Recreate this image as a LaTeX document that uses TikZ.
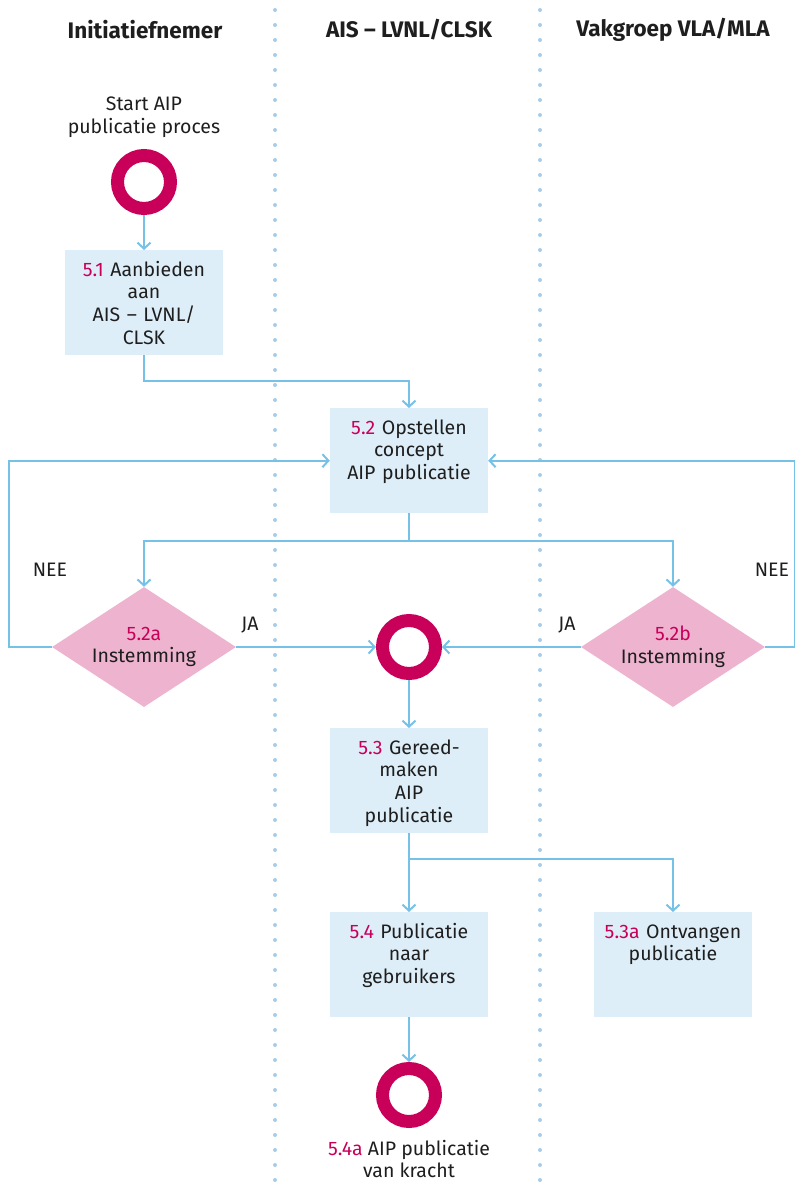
\documentclass[tikz,border=0pt]{standalone}
\usepackage{fontspec}
\setmainfont{Fira Sans}
\usetikzlibrary{shapes.geometric,arrows.meta}
\definecolor{boxblue}{RGB}{221,238,248}
\definecolor{lineblue}{RGB}{118,193,231}
\definecolor{ringred}{RGB}{200,0,90}
\definecolor{diapink}{RGB}{237,179,207}
\definecolor{dotblue}{RGB}{168,204,232}
\definecolor{inkgrey}{RGB}{30,30,30}
\newcommand{\nr}[1]{\textcolor{ringred}{#1}}

\begin{document}
\begin{tikzpicture}[x=1pt, y=-1pt,
    font=\fontsize{19.5pt}{22.7pt}\selectfont, text=inkgrey,
    lane/.style={dotblue, line width=4pt, line cap=round, dash pattern=on 0pt off 15pt},
    stepbox/.style={fill=boxblue, anchor=north, minimum width=158pt, text width=152pt, align=center,
      inner xsep=3pt, inner ysep=12pt, text height=14pt, text depth=67pt},
    check/.style={diamond, fill=diapink, minimum width=184pt, minimum height=120pt, aspect=1.53,
      inner sep=0pt, align=center},
    ring/.style={circle, draw=ringred, line width=13pt, minimum size=53pt, inner sep=0pt, outer sep=6.5pt},
    link/.style={lineblue, line width=2pt},
    arr/.style={link, -{Straight Barb[length=6pt, width=13pt]}},
    head/.style={font=\fontsize{22.5pt}{24pt}\selectfont\bfseries}]
    \useasboundingbox (0,0) rectangle (795,1194);

    % Lanes
    \draw [lane] (275,10) -- (275,1194);
    \draw [lane] (540,10) -- (540,1194);
    \node [head] (h1) at (145,30) {Initiatiefnemer};
    \node [head] (h2) at (409,30) {AIS – LVNL/CLSK};
    \node [head] (h3) at (673,30) {Vakgroep VLA/MLA};

    % Start
    \node [align=center] (starttxt) at (144,117) {Start AIP\\publicatie proces};
    \node [ring] (start) at (144,182) {};
    \node [stepbox] (s51) at (144,250) {\nr{5.1} Aanbieden\\aan\\AIS – LVNL/\\CLSK};

    % Concept and checks
    \node [stepbox] (s52) at (409,408) {\nr{5.2} Opstellen\\concept\\AIP publicatie};
    \node [check] (s52a) at (144,647) {\nr{5.2a}\\Instemming};
    \node [check] (s52b) at (673,647) {\nr{5.2b}\\Instemming};
    \node [ring] (join) at (409,647) {};
    \node (ja1) at (250,625) {JA};
    \node (ja2) at (567,625) {JA};
    \node (nee1) at (50,570) {NEE};
    \node (nee2) at (772,570) {NEE};

    % Publication
    \node [stepbox] (s53) at (409,728) {\nr{5.3} Gereed-\\maken\\AIP\\publicatie};
    \node [stepbox] (s54) at (409,912) {\nr{5.4} Publicatie\\naar\\gebruikers};
    \node [stepbox] (s53a) at (673,912) {\nr{5.3a} Ontvangen\\publicatie};
    \node [ring] (finish) at (409,1095) {};
    \node [align=center] (finishtxt) at (409,1159) {\nr{5.4a} AIP publicatie\\van kracht};

    % Connectors
    \draw [arr] (start) -- (s51);
    \draw [arr] (s51.south) -- ++(0,26) -| (s52.north);
    \draw [link] (s52.south) -- ++(0,28) coordinate (fork1);
    \draw [arr] (fork1) -| (s52a.north);
    \draw [arr] (fork1) -| (s52b.north);
    \draw [arr] (s52a) -- (join);
    \draw [arr] (s52b) -- (join);
    \draw [arr] (s52a.west) -- ++(-43,0) |- (s52.west);
    \coordinate (edge) at (795,647);
    \draw [arr] (s52b.east) -- (edge) |- (s52.east);
    \draw [arr] (join) -- (s53);
    \draw [link] (s53.south) -- ++(0,26) coordinate (fork2);
    \draw [arr] (fork2) -- (s54);
    \draw [arr] (fork2) -| (s53a.north);
    \draw [arr] (s54) -- (finish);
\end{tikzpicture}
\end{document}
